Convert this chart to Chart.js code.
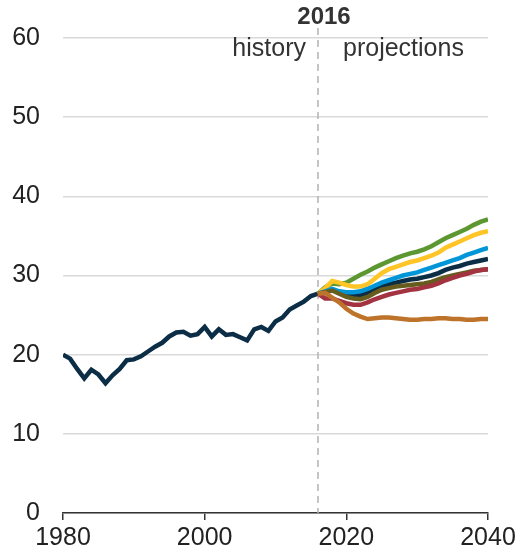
<!DOCTYPE html>
<html>
<head>
<meta charset="utf-8">
<script src="https://cdn.jsdelivr.net/npm/chart.js@4"></script>
<style>
  body { margin: 0; background: #fff; }
  #wrap { width: 517px; height: 554px; }
</style>
</head>
<body>
<div id="wrap"><canvas id="myChart" width="517" height="554"></canvas></div>
<script>
// history 1980-2016
var histYears = [];
for (var y = 1980; y <= 2016; y++) histYears.push(y);
var histValues = [20.0, 19.5, 18.2, 17.0, 18.1, 17.5, 16.4, 17.4, 18.2, 19.3, 19.4, 19.8,
  20.4, 21.0, 21.5, 22.3, 22.8, 22.9, 22.4, 22.6, 23.5, 22.3, 23.2, 22.5, 22.6, 22.2,
  21.8, 23.2, 23.5, 23.0, 24.2, 24.7, 25.7, 26.2, 26.7, 27.4, 27.7];

// projections 2016-2040
var projYears = [];
for (var p = 2016; p <= 2040; p++) projYears.push(p);
var greenCase  = [27.7, 28.5, 29.0, 28.9, 29.1, 29.6, 30.1, 30.5, 31.0, 31.4, 31.8, 32.2, 32.5, 32.8, 33.0, 33.3, 33.7, 34.2, 34.7, 35.1, 35.5, 35.9, 36.4, 36.8, 37.1];
var yellowCase = [27.7, 28.4, 29.3, 29.1, 28.8, 28.6, 28.6, 28.9, 29.6, 30.3, 30.8, 31.1, 31.4, 31.7, 31.9, 32.2, 32.5, 32.9, 33.5, 33.9, 34.3, 34.7, 35.1, 35.4, 35.6];
var blueCase   = [27.7, 28.0, 28.3, 28.0, 27.9, 27.9, 28.0, 28.3, 28.7, 29.1, 29.4, 29.7, 30.0, 30.2, 30.4, 30.7, 31.0, 31.3, 31.6, 31.9, 32.2, 32.6, 32.9, 33.2, 33.5];
var refCase    = [27.7, 28.0, 28.2, 27.9, 27.6, 27.5, 27.5, 27.8, 28.2, 28.6, 28.9, 29.1, 29.3, 29.5, 29.6, 29.8, 30.0, 30.3, 30.7, 31.0, 31.2, 31.5, 31.7, 31.9, 32.1];
var oliveCase  = [27.7, 27.9, 28.1, 27.7, 27.3, 27.1, 27.0, 27.3, 27.8, 28.2, 28.4, 28.6, 28.7, 28.8, 28.9, 29.0, 29.2, 29.5, 29.8, 30.0, 30.2, 30.4, 30.6, 30.7, 30.8];
var redCase    = [27.7, 27.1, 27.1, 26.8, 26.5, 26.3, 26.3, 26.6, 27.0, 27.3, 27.6, 27.8, 28.0, 28.2, 28.3, 28.5, 28.7, 29.0, 29.4, 29.7, 30.0, 30.2, 30.5, 30.7, 30.8];
var orangeCase = [27.7, 27.8, 27.2, 26.6, 25.8, 25.2, 24.8, 24.5, 24.6, 24.7, 24.7, 24.6, 24.5, 24.4, 24.4, 24.5, 24.5, 24.6, 24.6, 24.5, 24.5, 24.4, 24.4, 24.5, 24.5];

var divideYear = 2016;
var fontFam = "'Liberation Sans', Arial, sans-serif";

function pts(xs, ys) {
  return xs.map(function (x, i) { return { x: x, y: ys[i] }; });
}

function series(xs, ys, color) {
  return {
    data: pts(xs, ys),
    borderColor: color,
    borderWidth: 4.5,
    pointRadius: 0,
    tension: 0,
    fill: false
  };
}

// dashed divider line + history/projections labels
var dividerPlugin = {
  id: 'divider',
  beforeDatasetsDraw: function (chart) {
    var ctx = chart.ctx;
    var x = chart.scales.x.getPixelForValue(divideYear);
    var bottom = chart.chartArea.bottom;
    ctx.save();
    ctx.strokeStyle = '#b3b3b3';
    ctx.lineWidth = 1.5;
    ctx.setLineDash([7, 5]);
    ctx.beginPath();
    ctx.moveTo(x, 28);
    ctx.lineTo(x, bottom);
    ctx.stroke();
    ctx.restore();
  },
  afterDraw: function (chart) {
    var ctx = chart.ctx;
    var x = chart.scales.x.getPixelForValue(divideYear);
    ctx.save();
    ctx.fillStyle = '#333333';
    ctx.textBaseline = 'middle';
    ctx.font = 'bold 24px ' + fontFam;
    ctx.textAlign = 'center';
    ctx.fillText(String(divideYear), x + 6, 17);
    ctx.font = '25px ' + fontFam;
    ctx.textAlign = 'right';
    ctx.fillText('history', x - 12, 49);
    ctx.textAlign = 'left';
    ctx.fillText('projections', x + 25, 49);
    ctx.restore();
  }
};

var ctx = document.getElementById('myChart').getContext('2d');
var myChart = new Chart(ctx, {
  type: 'line',
  data: {
    datasets: [
      series(projYears, orangeCase, '#bd732a'),
      series(projYears, redCase, '#a33340'),
      series(projYears, oliveCase, '#665c1e'),
      series(projYears, blueCase, '#0096d7'),
      series(projYears, yellowCase, '#ffc425'),
      series(projYears, greenCase, '#5d9732'),
      series(projYears, refCase, '#0b2d45'),
      series(histYears, histValues, '#0b2d45')
    ]
  },
  options: {
    responsive: false,
    animation: false,
    layout: { padding: { top: 36, right: 29, left: 0, bottom: 0 } },
    plugins: {
      legend: { display: false },
      tooltip: { enabled: false }
    },
    scales: {
      x: {
        type: 'linear',
        min: 1980,
        max: 2040,
        ticks: {
          stepSize: 20,
          color: '#222',
          font: { family: fontFam, size: 25 },
          padding: 3,
          maxRotation: 0,
          callback: function (v) { return String(v); }
        },
        grid: {
          drawOnChartArea: false,
          color: '#333',
          tickLength: 7,
          lineWidth: 1.5
        },
        border: { color: '#333', width: 1.5 },
        afterFit: function (scale) {
          scale.height = 41;
          scale.paddingLeft = 0;
          scale.paddingRight = 0;
        }
      },
      y: {
        min: 0,
        max: 60,
        ticks: {
          stepSize: 10,
          color: '#222',
          font: { family: fontFam, size: 25 },
          padding: 23
        },
        grid: {
          color: '#d9d9d9',
          lineWidth: 1.5,
          drawTicks: false
        },
        border: { display: false },
        afterFit: function (scale) { scale.width = 63; }
      }
    }
  },
  plugins: [dividerPlugin]
});
</script>
</body>
</html>
